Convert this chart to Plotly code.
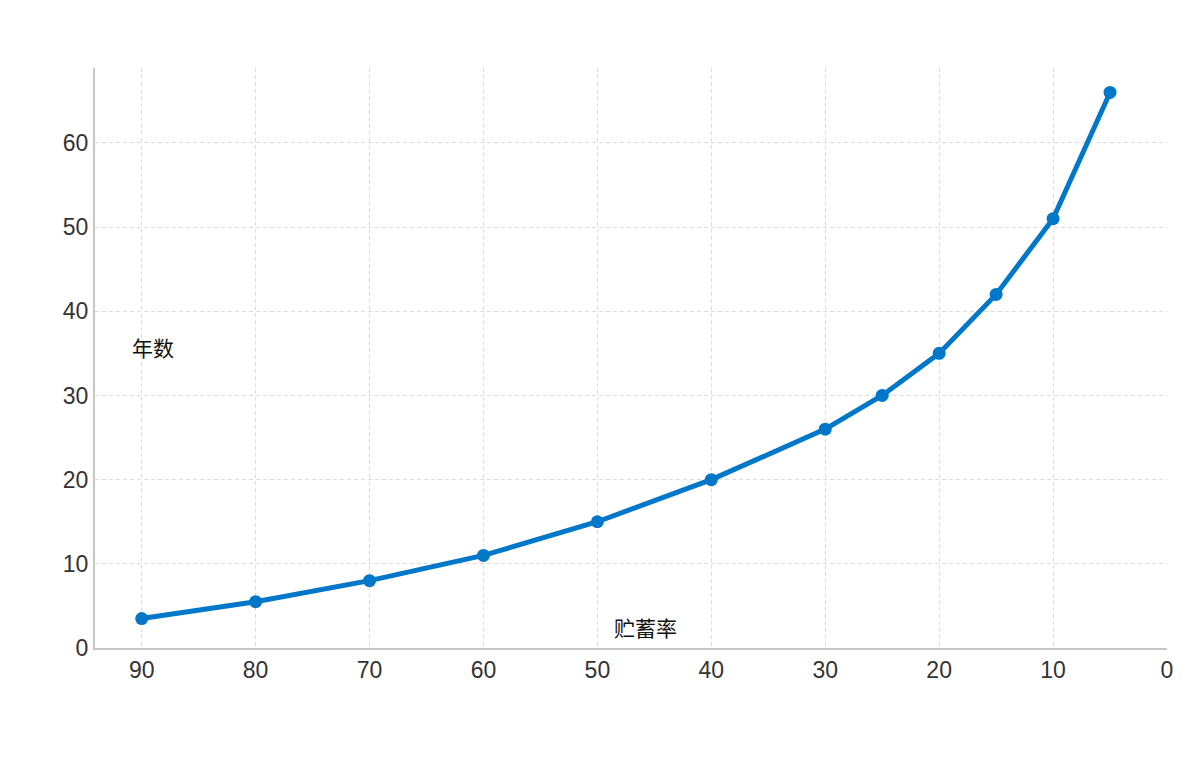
import plotly.graph_objects as go

savings_rate = [90, 80, 70, 60, 50, 40, 30, 25, 20, 15, 10, 5]
years = [3.5, 5.5, 8, 11, 15, 20, 26, 30, 35, 42, 51, 66]
x_ticks = [90, 80, 70, 60, 50, 40, 30, 20, 10, 0]
y_ticks = [0, 10, 20, 30, 40, 50, 60]

fig = go.Figure()
fig.add_trace(go.Scatter(
    x=savings_rate, y=years, mode="lines+markers",
    line=dict(color="#0077c8", width=5),
    marker=dict(color="#0077c8", size=13),
    showlegend=False,
))

axis_common = dict(
    showgrid=True, gridcolor="#dcdcdc", griddash="4px,3px", gridwidth=1,
    showline=True, linecolor="#c8c8c8", linewidth=2,
    zeroline=False, ticks="", tickfont=dict(size=23, color="#333333"),
)
fig.update_layout(
    width=1200, height=757,
    # page body has an 8px default margin, so the margins are trimmed by 8
    margin=dict(l=87, r=41, t=60, b=117),
    paper_bgcolor="white", plot_bgcolor="white",
    font=dict(family="Liberation Sans, Arial, Noto Sans CJK SC, sans-serif"),
    xaxis=dict(range=[94.1, 0], tickvals=x_ticks, **axis_common),
    yaxis=dict(range=[0, 68.9], tickvals=y_ticks, **axis_common),
    annotations=[
        dict(text="年数", x=89.0, y=35.7, xref="x", yref="y", showarrow=False,
             font=dict(size=21, color="#111111", family="Noto Sans CJK SC")),
        dict(text="贮蓄率", x=45.8, y=2.5, xref="x", yref="y", showarrow=False,
             font=dict(size=21, color="#111111", family="Noto Sans CJK SC")),
    ],
)
fig.write_html("out.html")
